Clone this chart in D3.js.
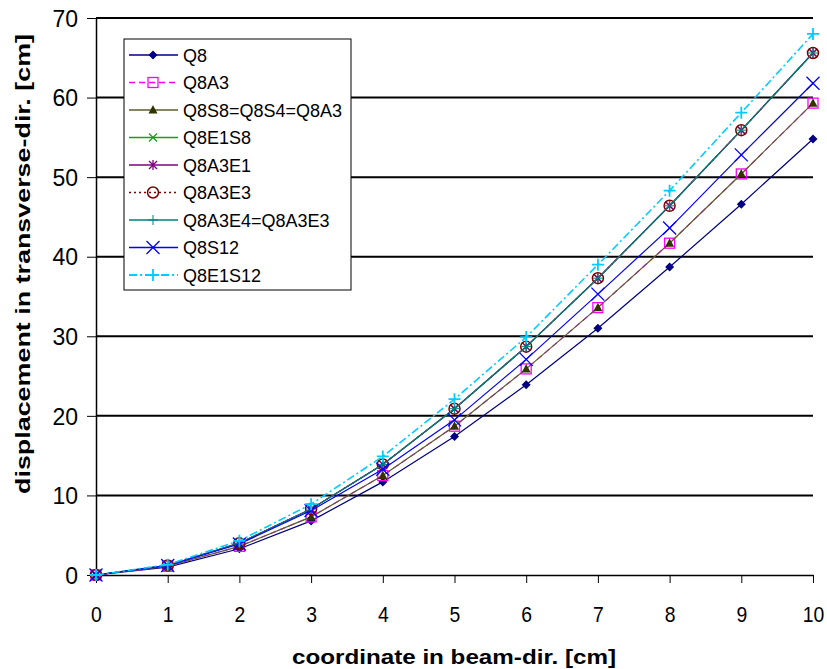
<!DOCTYPE html>
<html>
<head>
<meta charset="utf-8">
<script src="https://cdn.jsdelivr.net/npm/d3@7"></script>
<style>
body { margin: 0; background: #fff; }
text { font-family: "Liberation Sans", Arial, sans-serif; }
</style>
</head>
<body>
<div id="chart-area"></div>
<script>
// data
var xs = [0, 1, 2, 3, 4, 5, 6, 7, 8, 9, 10]
var yTicks = [0, 10, 20, 30, 40, 50, 60, 70]

var q8       = [0, 1.0, 3.3, 6.8, 11.7, 17.4, 23.9, 31.0, 38.7, 46.6, 54.8]
var q8a3     = [0, 1.1, 3.6, 7.3, 12.5, 18.7, 25.9, 33.6, 41.7, 50.4, 59.3]
var q8s8     = [0, 1.1, 3.6, 7.3, 12.5, 18.7, 25.9, 33.6, 41.7, 50.4, 59.3]
var q8e1s8   = [0, 1.2, 4.0, 8.3, 13.9, 20.9, 28.7, 37.3, 46.4, 55.9, 65.6]
var q8a3e1   = [0, 1.2, 4.0, 8.3, 13.9, 20.9, 28.7, 37.3, 46.4, 55.9, 65.6]
var q8a3e3   = [0, 1.2, 4.0, 8.3, 13.9, 20.9, 28.7, 37.3, 46.4, 55.9, 65.6]
var q8a3e4   = [0, 1.2, 4.0, 8.3, 13.9, 20.9, 28.7, 37.3, 46.4, 55.9, 65.6]
var q8s12    = [0, 1.2, 3.9, 8.1, 13.3, 19.5, 27.1, 35.3, 43.6, 52.8, 61.8]
var q8e1s12  = [0, 1.3, 4.3, 8.9, 14.9, 22.1, 29.9, 39.0, 48.3, 58.1, 68.0]

var series = [
	{name: "Q8", values: q8, color: "#000080", dash: null, marker: "diamond"},
	{name: "Q8A3", values: q8a3, color: "#FF00FF", dash: "6,4", marker: "square"},
	{name: "Q8S8=Q8S4=Q8A3", values: q8s8, color: "#5c5c2e", dash: null, marker: "triangle"},
	{name: "Q8E1S8", values: q8e1s8, color: "#1f9a1f", dash: null, marker: "x"},
	{name: "Q8A3E1", values: q8a3e1, color: "#800080", dash: null, marker: "star"},
	{name: "Q8A3E3", values: q8a3e3, color: "#800000", dash: "2,3", marker: "circle"},
	{name: "Q8A3E4=Q8A3E3", values: q8a3e4, color: "#008080", dash: null, marker: "plus"},
	{name: "Q8S12", values: q8s12, color: "#0000FF", dash: null, marker: "bigx"},
	{name: "Q8E1S12", values: q8e1s12, color: "#00CCFF", dash: "8,3,2,3", marker: "plus2"}
]

var width = 827
var height = 669
var margin = {top: 18, right: 14, bottom: 94, left: 96}
var w = width - margin.left - margin.right
var h = height - margin.top - margin.bottom

var svg = d3.select("#chart-area").append("svg")
.attr("width", width)
.attr("height", height)

var g = svg.append("g")
.attr("transform", "translate(" + margin.left + "," + margin.top + ")")

var x = d3.scaleLinear().domain([0, 10]).range([0, w])
var y = d3.scaleLinear().domain([0, 70]).range([h, 0])

// gridlines
g.selectAll(".grid")
.data(yTicks.filter(d => d > 0))
.enter().append("line")
.attr("x1", 0).attr("x2", w)
.attr("y1", d => y(d)).attr("y2", d => y(d))
.attr("stroke", "#000")
.attr("stroke-width", 2)

// axes
var xAxis = g.append("g")
.attr("transform", "translate(0," + h + ")")
.call(d3.axisBottom(x).tickValues(xs).tickSize(8).tickSizeOuter(0).tickPadding(23))
var yAxis = g.append("g")
.call(d3.axisLeft(y).tickValues(yTicks).tickSize(9).tickSizeOuter(0).tickPadding(9))

xAxis.select(".domain").attr("stroke", "#000").attr("stroke-width", 1.5)
yAxis.select(".domain").attr("stroke", "#000").attr("stroke-width", 1.5)
svg.selectAll(".tick line").attr("stroke", "#000")
svg.selectAll(".tick text")
.attr("font-family", "Liberation Sans, Arial, sans-serif")
.attr("fill", "#000")
xAxis.selectAll(".tick text").attr("font-size", "22px").attr("transform", "scale(0.88,1)")
yAxis.selectAll(".tick text").attr("font-size", "23px").attr("dy", "0.36em")

// marker drawing
function drawMarker(sel, type, color) {
	if (type == "diamond") {
		sel.append("path").attr("d", "M0,-4.5L4.5,0L0,4.5L-4.5,0Z").attr("fill", color)
	} else if (type == "square") {
		sel.append("rect").attr("x", -5).attr("y", -5).attr("width", 10).attr("height", 10)
		.attr("fill", "none").attr("stroke", color).attr("stroke-width", 1.3)
	} else if (type == "triangle") {
		sel.append("path").attr("d", "M0,-5L4.5,3.5L-4.5,3.5Z").attr("fill", "#333300")
	} else if (type == "x") {
		sel.append("path").attr("d", "M-4,-4L4,4M4,-4L-4,4").attr("stroke", color).attr("stroke-width", 1.3)
	} else if (type == "star") {
		sel.append("path").attr("d", "M-4,-4L4,4M4,-4L-4,4M0,-5L0,5").attr("stroke", color).attr("stroke-width", 1.3)
	} else if (type == "circle") {
		sel.append("circle").attr("r", 5.5).attr("fill", "none").attr("stroke", color).attr("stroke-width", 1.5)
	} else if (type == "plus") {
		sel.append("path").attr("d", "M-5,0L5,0M0,-5L0,5").attr("stroke", color).attr("stroke-width", 1)
	} else if (type == "bigx") {
		sel.append("path").attr("d", "M-6.5,-6.5L6.5,6.5M6.5,-6.5L-6.5,6.5").attr("stroke", color).attr("stroke-width", 1.3)
	} else if (type == "plus2") {
		sel.append("path").attr("d", "M-6,0L6,0M0,-6L0,6").attr("stroke", color).attr("stroke-width", 1.8)
	}
}

var line = d3.line()
.x((d, i) => x(xs[i]))
.y(d => y(d))

series.forEach(s => {
	g.append("path")
	.datum(s.values)
	.attr("fill", "none")
	.attr("stroke", s.color)
	.attr("stroke-width", s.name == "Q8E1S12" ? 1.6 : 1.2)
	.attr("stroke-dasharray", s.dash)
	.attr("d", line)

	s.values.forEach((v, i) => {
		var m = g.append("g").attr("transform", "translate(" + x(xs[i]) + "," + y(v) + ")")
		drawMarker(m, s.marker, s.color)
	})
})

// legend
var legend = svg.append("g").attr("transform", "translate(124,39)")
legend.append("rect")
.attr("width", 227).attr("height", 251)
.attr("fill", "#fff").attr("stroke", "#000").attr("stroke-width", 1)

series.forEach((s, i) => {
	var row = legend.append("g").attr("transform", "translate(0," + (16 + i * 27.5) + ")")
	row.append("line")
	.attr("x1", 5).attr("x2", 54)
	.attr("stroke", s.color)
	.attr("stroke-width", s.name == "Q8E1S12" ? 2 : 1.3)
	.attr("stroke-dasharray", s.dash)
	drawMarker(row.append("g").attr("transform", "translate(29,0)"), s.marker, s.color)
	row.append("text")
	.attr("x", 59).attr("y", 6.5)
	.attr("font-size", "18px")
	.attr("fill", "#000")
	.text(s.name)
})

// axis titles
svg.append("text")
.attr("x", 454)
.attr("y", 664)
.attr("text-anchor", "middle")
.attr("font-size", "20px")
.attr("font-weight", "bold")
.attr("textLength", 324)
.attr("lengthAdjust", "spacingAndGlyphs")
.text("coordinate in beam-dir. [cm]")

svg.append("text")
.attr("transform", "translate(30,264) rotate(-90)")
.attr("text-anchor", "middle")
.attr("font-size", "21px")
.attr("font-weight", "bold")
.attr("textLength", 460)
.attr("lengthAdjust", "spacingAndGlyphs")
.text("displacement in transverse-dir. [cm]")
</script>
</body>
</html>
